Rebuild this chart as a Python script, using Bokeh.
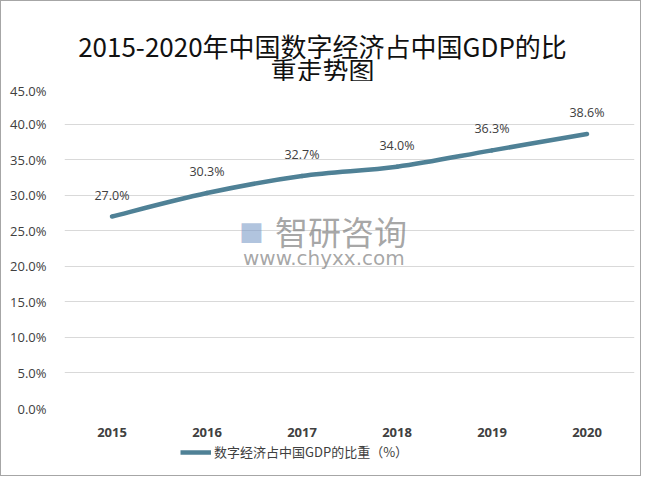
from bokeh.plotting import figure
from bokeh.layouts import column
from bokeh.models import (ColumnDataSource, FixedTicker, PrintfTickFormatter, Legend,
                          LegendItem, Label)
from bokeh.core.properties import value
from bokeh.embed import file_html
from bokeh.resources import INLINE

years = ["2015", "2016", "2017", "2018", "2019", "2020"]
share = [27.0, 30.3, 32.7, 34.0, 36.3, 38.6]
y_ticks = [0, 5, 10, 15, 20, 25, 30, 35, 40, 45]
series_name = "数字经济占中国GDP的比重（%）"
title_lines = ["2015-2020年中国数字经济占中国GDP的比", "重走势图"]

LINE_COLOR = "#4f8196"
TEXT_COLOR = "#404040"
W = 639

xs = list(range(len(years)))

def bare(h):
    f = figure(width=W, height=h, output_backend="svg", toolbar_location=None,
               x_axis_location=None, y_axis_location=None,
               min_border_left=0, min_border_right=0, min_border_top=0, min_border_bottom=0)
    f.outline_line_color = None
    f.xgrid.grid_line_color = None
    f.ygrid.grid_line_color = None
    return f

# ---- title strip (its frame is aligned with the chart frame inside the column)
p0 = bare(80)
for line, ypos in zip(title_lines, [36, 12]):
    p0.add_layout(Label(x=258, y=ypos, x_units="screen", y_units="screen", text=line,
                        text_align="center", text_baseline="middle",
                        text_font="Noto Sans CJK SC", text_font_size="26px",
                        text_color="#111111"))

# ---- main chart
p = figure(width=W, height=358, output_backend="svg", toolbar_location=None,
           x_range=(-0.5, len(years) - 0.5), y_range=(0, 45),
           min_border_left=63, min_border_right=6, min_border_top=7, min_border_bottom=31)

p.outline_line_color = None
p.background_fill_color = "white"
p.border_fill_color = "white"

p.xgrid.grid_line_color = None
p.ygrid.grid_line_color = "#d9d9d9"
p.ygrid.grid_line_width = 1

p.yaxis.ticker = FixedTicker(ticks=y_ticks)
p.yaxis.formatter = PrintfTickFormatter(format="%.1f%%")
p.yaxis.axis_line_color = None
p.yaxis.major_tick_line_color = None
p.yaxis.minor_tick_line_color = None
p.yaxis.major_label_text_font = "Open Sans"
p.yaxis.major_label_text_font_size = "13px"
p.yaxis.major_label_text_color = TEXT_COLOR
p.yaxis.major_label_standoff = 12

p.xaxis.ticker = FixedTicker(ticks=xs)
p.xaxis.major_label_overrides = {i: y for i, y in enumerate(years)}
p.xaxis.axis_line_color = None
p.xaxis.major_tick_line_color = None
p.xaxis.minor_tick_line_color = None
p.xaxis.major_label_text_font = "Open Sans"
p.xaxis.major_label_text_font_size = "13px"
p.xaxis.major_label_text_font_style = "bold"
p.xaxis.major_label_text_color = TEXT_COLOR
p.xaxis.major_label_standoff = 13

n = len(xs)
x0, y0, x1, y1, cx0, cy0, cx1, cy1 = [], [], [], [], [], [], [], []
t = 1.0 / 6.0
for i in range(n - 1):
    xp = xs[i - 1] if i > 0 else xs[i]
    yp = share[i - 1] if i > 0 else share[i]
    xn = xs[i + 2] if i + 2 < n else xs[i + 1]
    yn = share[i + 2] if i + 2 < n else share[i + 1]
    x0.append(xs[i]); y0.append(share[i])
    x1.append(xs[i + 1]); y1.append(share[i + 1])
    cx0.append(xs[i] + (xs[i + 1] - xp) * t)
    cy0.append(share[i] + (share[i + 1] - yp) * t)
    cx1.append(xs[i + 1] - (xn - xs[i]) * t)
    cy1.append(share[i + 1] - (yn - share[i]) * t)

bz = ColumnDataSource(dict(x0=x0, y0=y0, x1=x1, y1=y1, cx0=cx0, cy0=cy0, cx1=cx1, cy1=cy1))
p.bezier(x0="x0", y0="y0", x1="x1", y1="y1", cx0="cx0", cy0="cy0", cx1="cx1", cy1="cy1",
         source=bz, line_color=LINE_COLOR, line_width=4.5, line_cap="round")

src = ColumnDataSource(dict(x=xs, y=share, lab=[f"{v:.1f}%" for v in share]))
p.text(x="x", y="y", text="lab", source=src, text_align="center", text_baseline="bottom",
       y_offset=-13, text_font=value("Open Sans"), text_font_size="12.5px",
       text_color=TEXT_COLOR)

# watermark
p.add_layout(Label(x=2.41, y=25.0, text="智研咨询", text_align="center", text_baseline="middle",
                   text_font="Noto Sans CJK SC", text_font_size="33px", text_color="#808080",
                   text_alpha=0.7))
p.add_layout(Label(x=1.47, y=25.0, text="■", text_align="center", text_baseline="middle",
                   text_font="DejaVu Sans", text_font_size="26px", text_color="#7d9cc9",
                   text_alpha=0.6))
p.add_layout(Label(x=2.23, y=21.1, text="www.chyxx.com", text_align="center", text_baseline="middle",
                   text_font="DejaVu Sans", text_font_size="20px", text_color="#808080",
                   text_alpha=0.7))

# ---- legend strip
p2 = bare(36)
proxy = p2.line(x=xs, y=share, line_color=LINE_COLOR, line_width=4.5, visible=False)
legend = Legend(items=[LegendItem(label=series_name, renderers=[proxy])],
                orientation="horizontal", location=(116, 14),
                label_text_font="Noto Sans CJK SC", label_text_font_size="13px",
                label_text_color=TEXT_COLOR, glyph_width=31, glyph_height=14, label_height=14,
                label_standoff=3, border_line_color=None, background_fill_alpha=0,
                padding=0, margin=0, spacing=0)
p2.add_layout(legend, "center")

layout = column(p0, p, p2, spacing=0, styles={"border": "1px solid #a6a6a6"})

open("out.html", "w").write(file_html(layout, INLINE))
